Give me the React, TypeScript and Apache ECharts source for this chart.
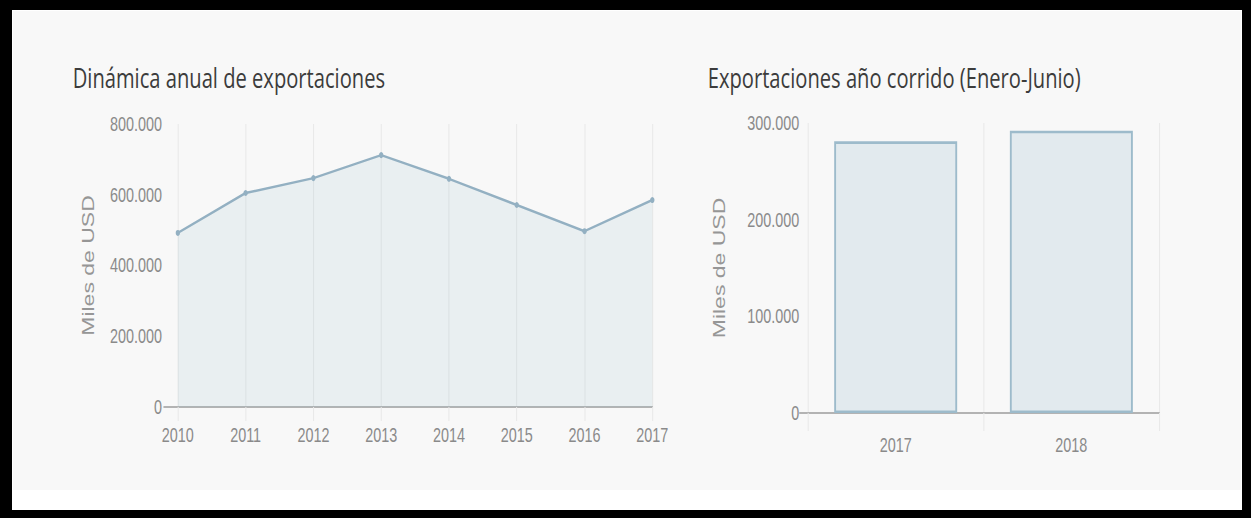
import React, { useEffect, useRef } from "react";
import * as echarts from "echarts";

const years = ["2010", "2011", "2012", "2013", "2014", "2015", "2016", "2017"];
const annualExports = [492000, 605000, 647000, 712000, 645000, 571000, 497000, 585000];
const ytdYears = ["2017", "2018"];
const ytdExports = [281000, 292000];
const leftTitle = "Dinámica anual de exportaciones";
const rightTitle = "Exportaciones año corrido (Enero-Junio)";
const axisName = "Miles de USD";

const K = 0.72; // horizontal compression of the reference picture
const CW = Math.round(1251 / K);
const CH = 518;

const fmt = (v: number) => String(v).replace(/\B(?=(\d{3})+(?!\d))/g, ".");

const GRID = "#e8e8e8";
const AXIS = "#b3b3b3";
const LABEL = "#8a8a8a";
const LINE = "#93b0c2";

export default function App() {
  const ref = useRef<HTMLDivElement>(null);
  useEffect(() => {
    if (!ref.current) return;
    const chart = echarts.init(ref.current, null, { renderer: "svg", width: CW, height: CH });
    const labelStyle = { fontFamily: "Liberation Sans, Arial, sans-serif", fontSize: 20, color: LABEL };
    const nameStyle = { fontFamily: "Liberation Sans, Arial, sans-serif", fontSize: 23, color: "#969696" };
    const titleStyle = { fontFamily: "Open Sans, sans-serif", fontSize: 28, fontWeight: "normal" as const, color: "#3c3c3c" };
    chart.setOption({
      animation: false,
      backgroundColor: "transparent",
      title: [
        { text: leftTitle, left: 96, top: 58, textStyle: titleStyle },
        { text: rightTitle, left: 978, top: 58, textStyle: titleStyle },
      ],
      grid: [
        { left: 247, right: CW - 906, top: 124, bottom: CH - 407, containLabel: false },
        { left: 1122, right: CW - 1610, top: 123, bottom: CH - 413, containLabel: false },
      ],
      xAxis: [
        {
          type: "category",
          gridIndex: 0,
          data: years,
          boundaryGap: false,
          axisLine: { show: true, lineStyle: { color: AXIS, width: 2 } },
          axisTick: { show: true, length: 14, lineStyle: { color: GRID, width: 1.4 } },
          axisLabel: { ...labelStyle, margin: 18 },
          splitLine: { show: true, lineStyle: { color: GRID, width: 1.4 } },
        },
        {
          type: "category",
          gridIndex: 1,
          data: ytdYears,
          boundaryGap: true,
          axisLine: { show: true, lineStyle: { color: AXIS, width: 2 } },
          axisTick: { show: true, length: 18, lineStyle: { color: GRID, width: 1.4 } },
          axisLabel: { ...labelStyle, margin: 22 },
          splitLine: { show: true, lineStyle: { color: GRID, width: 1.4 } },
        },
      ],
      yAxis: [
        {
          type: "value",
          gridIndex: 0,
          min: 0,
          max: 800000,
          interval: 200000,
          name: axisName,
          nameLocation: "middle",
          nameGap: 113,
          nameTextStyle: nameStyle,
          axisLine: { show: false },
          axisTick: { show: true, customValues: [0], length: 20, lineStyle: { color: AXIS, width: 2 } },
          axisLabel: { ...labelStyle, margin: 22, formatter: fmt },
          splitLine: { show: true, lineStyle: { color: GRID, width: 1 } },
        },
        {
          type: "value",
          gridIndex: 1,
          min: 0,
          max: 300000,
          interval: 100000,
          name: axisName,
          nameLocation: "middle",
          nameGap: 111,
          nameTextStyle: nameStyle,
          axisLine: { show: false },
          axisTick: { show: true, customValues: [0], length: 12, lineStyle: { color: AXIS, width: 2 } },
          axisLabel: { ...labelStyle, margin: 12, formatter: fmt },
          splitLine: { show: true, lineStyle: { color: GRID, width: 1 } },
        },
      ],
      series: [
        {
          type: "line",
          xAxisIndex: 0,
          yAxisIndex: 0,
          data: annualExports,
          symbol: "circle",
          symbolSize: 6,
          lineStyle: { color: LINE, width: 2.5 },
          itemStyle: { color: LINE },
          areaStyle: { color: "rgba(151,187,205,0.22)" },
          silent: true,
        },
        {
          type: "bar",
          xAxisIndex: 1,
          yAxisIndex: 1,
          data: ytdExports,
          barWidth: "70%",
          itemStyle: { color: "rgba(151,187,205,0.22)", borderColor: "#9dbbcb", borderWidth: 2.6 },
          silent: true,
        },
      ],
    });
    return () => chart.dispose();
  }, []);

  return (
    <div style={{ position: "fixed", left: 0, top: 0, width: 1251, height: 518, background: "#000", overflow: "hidden" }}>
      <div style={{ position: "absolute", left: 12, top: 10, width: 1230, height: 500, background: "#fff" }} />
      <div style={{ position: "absolute", left: 13, top: 11, width: 1228, height: 479, background: "#f8f8f8" }} />
      <div
        ref={ref}
        style={{ position: "absolute", left: 0, top: 0, width: CW, height: CH, transform: `scaleX(${K})`, transformOrigin: "0 0" }}
      />
    </div>
  );
}
